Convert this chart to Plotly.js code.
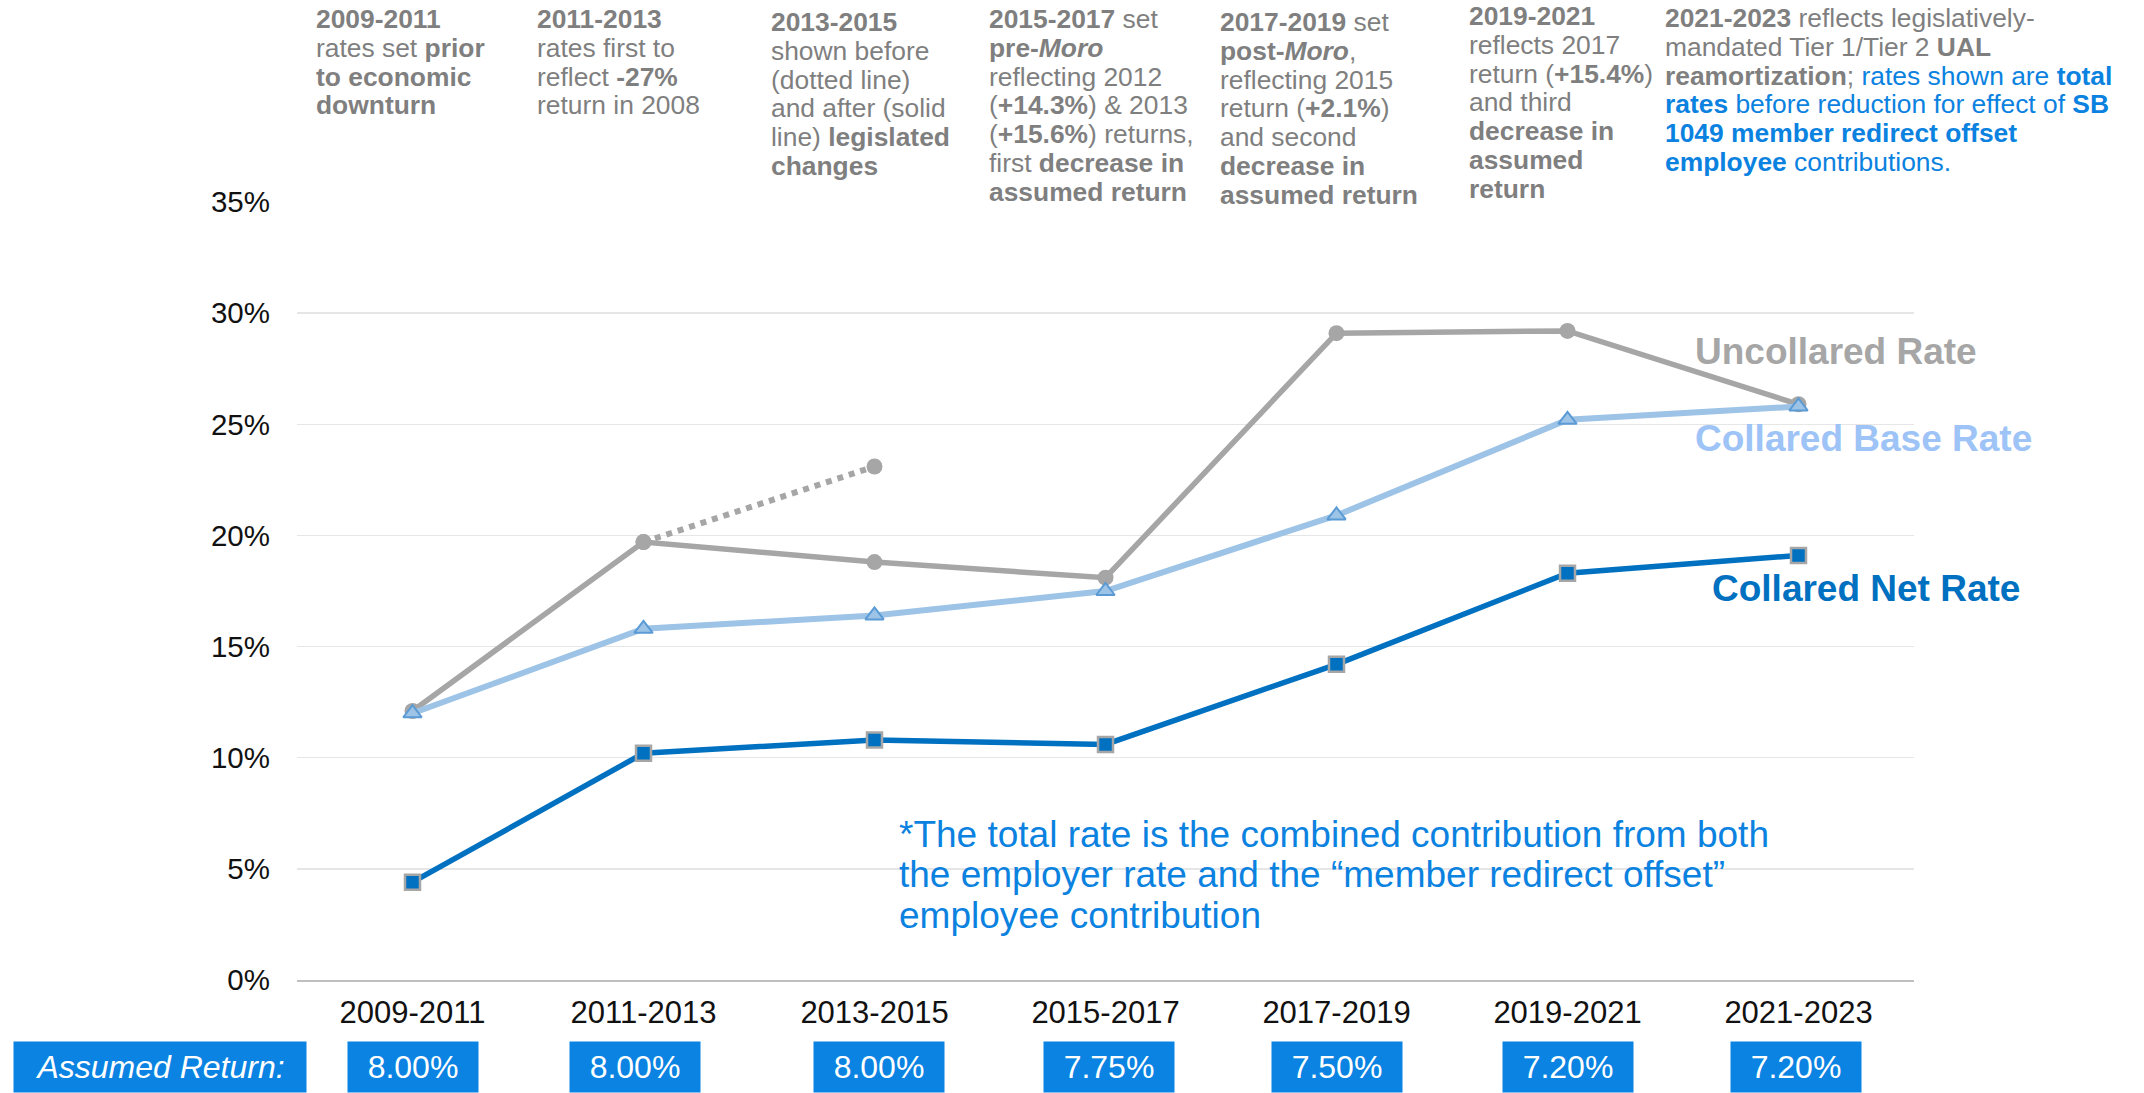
<!DOCTYPE html>
<html>
<head>
<meta charset="utf-8">
<script src="https://cdn.plot.ly/plotly-3.0.1.min.js"></script>
<style>
  html, body { margin: 0; padding: 0; background: #ffffff; }
  #chart { width: 2144px; height: 1093px; }
</style>
</head>
<body>
<div id="chart"></div>
<script>
// ---------- DATA ----------
const periods = ["2009-2011", "2011-2013", "2013-2015", "2015-2017", "2017-2019", "2019-2021", "2021-2023"];
const uncollaredRate = [12.1, 19.7, 18.8, 18.1, 29.1, 29.2, 25.9];
const collaredBaseRate = [12.0, 15.8, 16.4, 17.5, 20.9, 25.2, 25.8];
const collaredNetRate = [4.4, 10.2, 10.8, 10.6, 14.2, 18.3, 19.1];
const beforeLegislationPeriods = ["2011-2013", "2013-2015"];
const beforeLegislationRate = [19.7, 23.1];
const assumedReturn = [8.00, 8.00, 8.00, 7.75, 7.50, 7.20, 7.20];
const yTickValues = [0, 5, 10, 15, 20, 25, 30, 35];

const seriesLabels = ["Uncollared Rate", "Collared Base Rate", "Collared Net Rate"];

const BLUE_TXT = "#0B82E0";
const periodNotes = [
  ["<b>2009-2011</b>", "rates set <b>prior</b>", "<b>to economic</b>", "<b>downturn</b>"],
  ["<b>2011-2013</b>", "rates first to", "reflect <b>-27%</b>", "return in 2008"],
  ["<b>2013-2015</b>", "shown before", "(dotted line)", "and after (solid", "line) <b>legislated</b>", "<b>changes</b>"],
  ["<b>2015-2017</b> set", "<b>pre-<i>Moro</i></b>", "reflecting 2012", "(<b>+14.3%</b>) &amp; 2013", "(<b>+15.6%</b>) returns,", "first <b>decrease in</b>", "<b>assumed return</b>"],
  ["<b>2017-2019</b> set", "<b>post-<i>Moro</i></b>,", "reflecting 2015", "return (<b>+2.1%</b>)", "and second", "<b>decrease in</b>", "<b>assumed return</b>"],
  ["<b>2019-2021</b>", "reflects 2017", "return (<b>+15.4%</b>)", "and third", "<b>decrease in</b>", "<b>assumed</b>", "<b>return</b>"],
  ["<b>2021-2023</b> reflects legislatively-", "mandated Tier 1/Tier 2 <b>UAL</b>",
   "<b>reamortization</b>; <span style='color:" + BLUE_TXT + "'>rates shown are <b>total</b></span>",
   "<span style='color:" + BLUE_TXT + "'><b>rates</b> before reduction for effect of <b>SB</b></span>",
   "<span style='color:" + BLUE_TXT + "'><b>1049 member redirect offset</b></span>",
   "<span style='color:" + BLUE_TXT + "'><b>employee</b> contributions.</span>"]
];
const footnoteLines = [
  "*The total rate is the combined contribution from both",
  "the employer rate and the \u201cmember redirect offset\u201d",
  "employee contribution"
];

// ---------- LAYOUT HELPERS ----------
const W = 2144, H = 1093;
const M = { l: 297, r: 230, t: 202, b: 113 };
const plotW = W - M.l - M.r, plotH = H - M.t - M.b;
const px2x = px => (px - M.l) / plotW;
const py2y = py => (H - M.b - py) / plotH;

const FONT = "Liberation Sans, Arial, Helvetica, sans-serif";
const GREY_TXT = "#7F7F7F";
const BOX_BLUE = "#0A83E2";

const annotations = [];

// top period notes
const noteX = [314, 535, 769, 987, 1218, 1467, 1663];
const noteY0 = [19, 19, 22, 19, 22, 16, 18];
const noteLH = 28.8;
periodNotes.forEach((lines, c) => {
  lines.forEach((ln, i) => {
    annotations.push({
      xref: "paper", yref: "paper",
      x: px2x(noteX[c]), y: py2y(noteY0[c] + i * noteLH),
      xanchor: "left", yanchor: "middle", align: "left",
      text: ln, showarrow: false,
      font: { family: FONT, size: 26.4, color: GREY_TXT }
    });
  });
});

// series labels (direct labels)
const labelPos = [[1693, 351], [1693, 438], [1710, 588]];
const labelColors = ["#A6A6A6", "#9DC3F7", "#0070C0"];
seriesLabels.forEach((t, i) => {
  annotations.push({
    xref: "paper", yref: "paper",
    x: px2x(labelPos[i][0]), y: py2y(labelPos[i][1]),
    xanchor: "left", yanchor: "middle",
    text: "<b>" + t + "</b>", showarrow: false,
    font: { family: FONT, size: 37, color: labelColors[i] }
  });
});

// footnote
footnoteLines.forEach((t, i) => {
  annotations.push({
    xref: "paper", yref: "paper",
    x: px2x(897), y: py2y(834 + i * 40.5),
    xanchor: "left", yanchor: "middle", align: "left",
    text: t, showarrow: false,
    font: { family: FONT, size: 37, color: BLUE_TXT }
  });
});

// assumed return boxes
const boxCY = py2y(1067);
const boxShift = [0, -9, 4, 3, 0, 0, -3];
annotations.push({
  xref: "paper", yref: "paper",
  x: px2x(160), y: boxCY, xanchor: "center", yanchor: "middle",
  text: "<i>Assumed Return:</i>", showarrow: false,
  width: 292, height: 50, borderpad: 0, bgcolor: BOX_BLUE,
  font: { family: FONT, size: 32, color: "#ffffff" }
});
assumedReturn.forEach((v, i) => {
  annotations.push({
    xref: "x", yref: "paper",
    x: periods[i], y: boxCY, xanchor: "center", yanchor: "middle",
    xshift: boxShift[i],
    text: v.toFixed(2) + "%", showarrow: false,
    width: 130, height: 50, borderpad: 0, bgcolor: BOX_BLUE,
    font: { family: FONT, size: 32, color: "#ffffff" }
  });
});

// ---------- TRACES ----------
const traces = [
  {
    x: beforeLegislationPeriods, y: beforeLegislationRate, type: "scatter", mode: "lines+markers",
    line: { color: "#A6A6A6", width: 6, dash: "dot" },
    marker: { symbol: "circle", size: 16, color: "#A6A6A6" },
    showlegend: false, hoverinfo: "skip"
  },
  {
    x: periods, y: uncollaredRate, type: "scatter", mode: "lines+markers", name: seriesLabels[0],
    line: { color: "#A6A6A6", width: 5.5 },
    marker: { symbol: "circle", size: 16, color: "#A6A6A6" },
    showlegend: false
  },
  {
    x: periods, y: collaredBaseRate, type: "scatter", mode: "lines+markers", name: seriesLabels[1],
    line: { color: "#9DC3E6", width: 6 },
    marker: { symbol: "triangle-up", size: 16, color: "#9DC3E6", line: { color: "#5B9BD5", width: 2 } },
    showlegend: false
  },
  {
    x: periods, y: collaredNetRate, type: "scatter", mode: "lines+markers", name: seriesLabels[2],
    line: { color: "#0070C0", width: 5.5 },
    marker: { symbol: "square", size: 15, color: "#0070C0", line: { color: "#A6A6A6", width: 2.5 } },
    showlegend: false
  }
];

const layout = {
  width: W, height: H,
  margin: M,
  paper_bgcolor: "#ffffff", plot_bgcolor: "#ffffff",
  font: { family: FONT, color: "#1a1a1a" },
  showlegend: false,
  xaxis: {
    type: "category", categoryorder: "array", categoryarray: periods,
    range: [-0.5, 6.5], showgrid: false, zeroline: false,
    showline: true, linecolor: "#BFBFBF", linewidth: 2,
    ticks: "", tickfont: { family: FONT, size: 31, color: "#111111" },
    ticklabelstandoff: 4, fixedrange: true
  },
  yaxis: {
    range: [0, 35], tickvals: yTickValues, ticktext: yTickValues.map(v => v + "%"),
    showgrid: true, gridcolor: "#E6E6E6", gridwidth: 1.5, zeroline: false,
    showline: false, ticks: "", tickfont: { family: FONT, size: 29.5, color: "#111111" },
    ticklabelstandoff: 26, fixedrange: true
  },
  annotations: annotations
};

Plotly.newPlot("chart", traces, layout, { staticPlot: true, displayModeBar: false });
</script>
</body>
</html>
